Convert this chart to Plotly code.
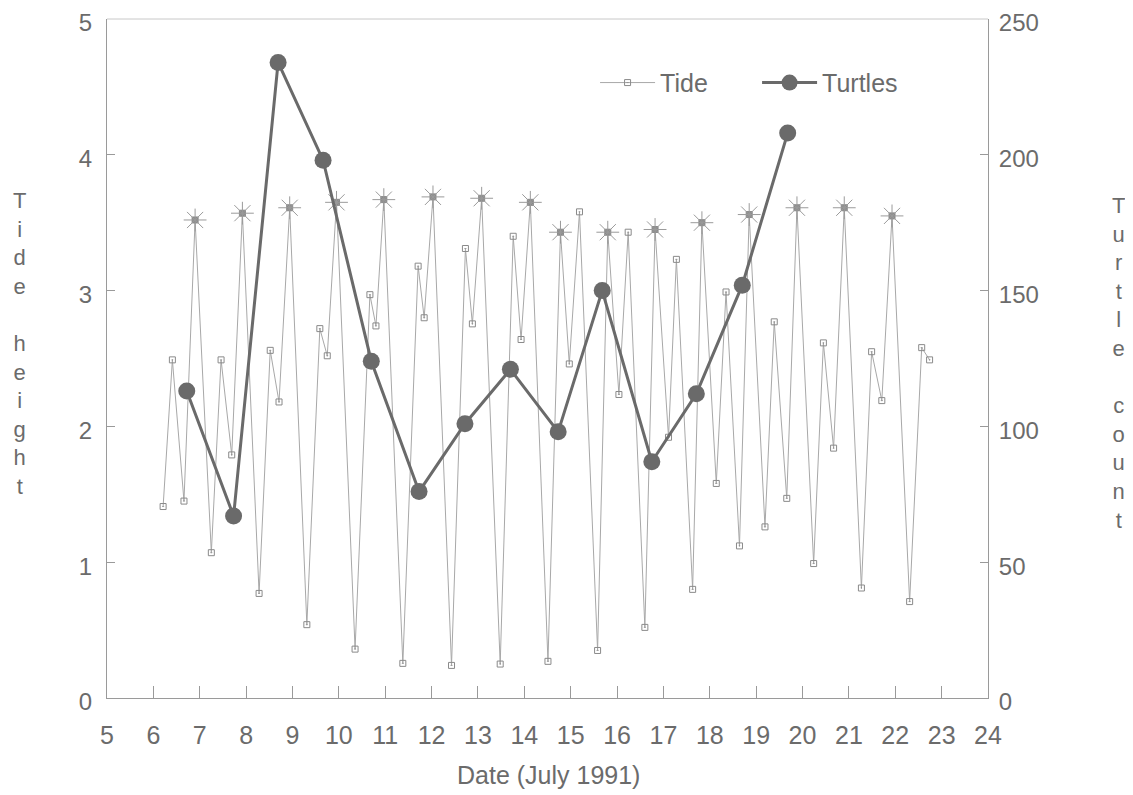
import plotly.graph_objects as go

# ---- data ----
tide_time = [6.21, 6.41, 6.66, 6.90, 7.25, 7.46, 7.69, 7.92, 8.28, 8.52, 8.71, 8.94,
             9.31, 9.59, 9.75, 9.95, 10.35, 10.67, 10.80, 10.97, 11.38, 11.71, 11.84, 12.03,
             12.43, 12.73, 12.88, 13.08, 13.48, 13.76, 13.93, 14.13, 14.51, 14.78, 14.97, 15.19,
             15.58, 15.80, 16.04, 16.24, 16.60, 16.82, 17.11, 17.28, 17.63, 17.83, 18.14, 18.35,
             18.64, 18.85, 19.19, 19.39, 19.66, 19.88, 20.24, 20.45, 20.67, 20.90, 21.27, 21.49,
             21.71, 21.93, 22.31, 22.57, 22.74]
tide_height = [1.41, 2.49, 1.45, 3.52, 1.07, 2.49, 1.79, 3.57, 0.77, 2.56, 2.18, 3.61,
               0.54, 2.72, 2.52, 3.65, 0.36, 2.97, 2.74, 3.67, 0.255, 3.18, 2.80, 3.69,
               0.24, 3.31, 2.755, 3.68, 0.25, 3.40, 2.64, 3.65, 0.27, 3.43, 2.46, 3.58,
               0.35, 3.43, 2.235, 3.43, 0.52, 3.45, 1.92, 3.23, 0.80, 3.50, 1.58, 2.99,
               1.12, 3.56, 1.26, 2.77, 1.47, 3.61, 0.99, 2.615, 1.84, 3.61, 0.81, 2.55,
               2.19, 3.55, 0.71, 2.58, 2.49]
tide_star = [0, 0, 0, 1, 0, 0, 0, 1, 0, 0, 0, 1,
             0, 0, 0, 1, 0, 0, 0, 1, 0, 0, 0, 1,
             0, 0, 0, 1, 0, 0, 0, 1, 0, 1, 0, 0,
             0, 1, 0, 0, 0, 1, 0, 0, 0, 1, 0, 0,
             0, 1, 0, 0, 0, 1, 0, 0, 0, 1, 0, 0,
             0, 1, 0, 0, 0]

turtle_time = [6.72, 7.73, 8.69, 9.66, 10.70, 11.73, 12.72, 13.70, 14.73, 15.68, 16.75, 17.71, 18.70, 19.68]
turtle_count = [113, 67, 234, 198, 124, 76, 101, 121, 98, 150, 87, 112, 152, 208]

x_ticks = list(range(5, 25))
y_ticks = [0, 1, 2, 3, 4, 5]
y2_ticks = [0, 50, 100, 150, 200, 250]

left_title = "Tide height"
right_title = "Turtle count"
x_title = "Date (July 1991)"

# ---- styles ----
TXT = "#6b6b6b"
AX = "#9a9a9a"
FONT = "Liberation Sans, Arial, sans-serif"

star_x = [t for t, s in zip(tide_time, tide_star) if s]
star_y = [h for h, s in zip(tide_height, tide_star) if s]

fig = go.Figure()

fig.add_trace(go.Scatter(
    x=tide_time, y=tide_height, name="Tide", mode="lines+markers",
    line=dict(color="#a8a8a8", width=1),
    marker=dict(symbol=["square" if s else "square-open-dot" for s in tide_star],
                size=6, color="#8a8a8a", line=dict(color="#8a8a8a", width=1)),
    yaxis="y"))

fig.add_trace(go.Scatter(
    x=star_x, y=star_y, mode="markers", showlegend=False, hoverinfo="skip",
    marker=dict(symbol="asterisk-open", size=19, color="#9a9a9a",
                line=dict(color="#9a9a9a", width=1)),
    yaxis="y"))

fig.add_trace(go.Scatter(
    x=turtle_time, y=turtle_count, name="Turtles", mode="lines+markers",
    line=dict(color="#6a6a6a", width=3),
    marker=dict(symbol="circle", size=17, color="#6a6a6a"),
    yaxis="y2"))

fig.update_layout(
    width=1133, height=795,
    margin=dict(l=99, r=153, t=11, b=105, autoexpand=False),
    paper_bgcolor="white", plot_bgcolor="white",
    font=dict(family=FONT, color=TXT, size=22),
    showlegend=True,
    legend=dict(orientation="h", x=0.554, y=0.906, xanchor="left", yanchor="middle",
                bgcolor="rgba(0,0,0,0)", font=dict(size=25, color=TXT),
                itemwidth=55, entrywidth=92, entrywidthmode="pixels"),
    xaxis=dict(range=[5, 24], tickvals=x_ticks, ticktext=[str(v) for v in x_ticks],
               showgrid=False, zeroline=False, showline=True, linecolor=AX, linewidth=1,
               ticks="inside", ticklen=12, tickcolor=AX, tickwidth=1, automargin=False,
               ticklabeloverflow="allow",
               tickfont=dict(size=25, color=TXT), ticklabelstandoff=15),
    yaxis=dict(range=[0, 5], tickvals=y_ticks, showgrid=False, zeroline=False,
               showline=True, linecolor=AX, linewidth=1, automargin=False,
               ticks="inside", ticklen=8, tickcolor=AX, tickwidth=1,
               ticklabeloverflow="allow", ticklabelshift=4,
               tickfont=dict(size=24, color=TXT), ticklabelstandoff=9),
    yaxis2=dict(range=[0, 250], tickvals=y2_ticks, overlaying="y", side="right",
                showgrid=False, zeroline=False, showline=True, linecolor=AX, linewidth=1,
                ticks="inside", ticklen=8, tickcolor=AX, tickwidth=1, automargin=False,
                ticklabeloverflow="allow", ticklabelshift=4,
                tickfont=dict(size=24, color=TXT), ticklabelstandoff=5),
    shapes=[dict(type="line", xref="paper", yref="paper", x0=0, x1=1, y0=1, y1=1,
                 line=dict(color="#c8c8c8", width=1))],
    annotations=[
        dict(text="<br>".join(ch if ch != " " else " " for ch in left_title),
             xref="paper", yref="paper", x=-0.0988, y=0.522, xanchor="center", yanchor="middle",
             showarrow=False, align="center", font=dict(size=22, color=TXT)),
        dict(text="<br>".join(ch if ch != " " else " " for ch in right_title),
             xref="paper", yref="paper", x=1.1476, y=0.494, xanchor="center", yanchor="middle",
             showarrow=False, align="center", font=dict(size=22, color=TXT)),
        dict(text=x_title, xref="paper", yref="paper", x=0.5006, y=-0.1134,
             xanchor="center", yanchor="middle", showarrow=False,
             font=dict(size=25, color=TXT)),
    ],
)

fig.write_html("out.html")
